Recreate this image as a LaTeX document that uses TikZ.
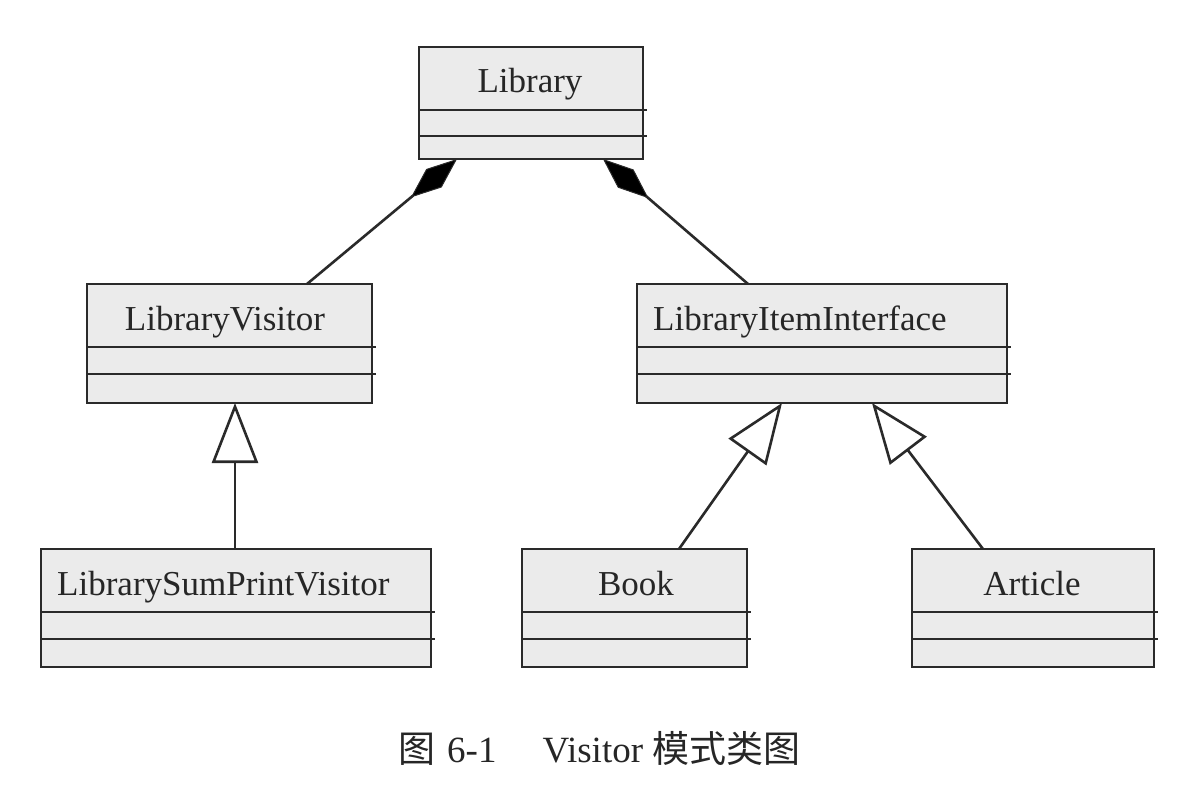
\documentclass[tikz,border=0pt]{standalone}
\usepackage{fontspec}
\setmainfont{Liberation Serif}
\newfontfamily\cjk{Noto Sans CJK SC}
\usetikzlibrary{arrows.meta,calc}
\definecolor{ln}{HTML}{2A2A2A}
\definecolor{bx}{HTML}{EBEBEB}
\definecolor{tx}{HTML}{262626}
\newcommand\umldivs[3]{%
  \draw[divl] ($(#1.north west)+(0,#2)$) -- ($(#1.north east)+(4,#2)$);
  \draw[divl] ($(#1.north west)+(0,#3)$) -- ($(#1.north east)+(4,#3)$);}
\begin{document}
\begin{tikzpicture}[x=1pt,y=-1pt,
  clsbox/.style={draw=ln, fill=bx, line width=2.8pt, inner sep=0pt, outer sep=0pt},
  divl/.style={draw=ln, line width=2.8pt},
  clstext/.style={text=tx, inner sep=0pt, anchor=base, font=\fontsize{35}{40}\selectfont},
  conn/.style={draw=ln, line width=2.6pt},
  compo/.style={conn, -{Diamond[length=60pt, width=24pt, fill=black, line width=1pt]}},
  inherit/.style={conn, -{Triangle[open, length=60pt, width=46pt, fill=white, line width=2.6pt]}}]
\fill[white] (0,0) rectangle (1202,798);
\useasboundingbox (0,0) rectangle (1202,798);

% boxes
\node[clsbox, minimum width=224pt, minimum height=112pt] (lib) at (531,103) {};
\umldivs{lib}{63}{89}
\node[clstext] (libt) at (530,92) {Library};

\node[clsbox, minimum width=285pt, minimum height=119pt] (lv) at (229.5,343.5) {};
\umldivs{lv}{63}{90}
\node[clstext] (lvt) at (225,330) {LibraryVisitor};

\node[clsbox, minimum width=370pt, minimum height=119pt] (lii) at (822,343.5) {};
\umldivs{lii}{63}{90}
\node[clstext, anchor=base west] (liit) at (653,330) {LibraryItemInterface};

\node[clsbox, minimum width=390pt, minimum height=118pt] (lsv) at (236,608) {};
\umldivs{lsv}{63}{90}
\node[clstext, anchor=base west] (lsvt) at (57,595) {LibrarySumPrintVisitor};

\node[clsbox, minimum width=225pt, minimum height=118pt] (book) at (634.5,608) {};
\umldivs{book}{63}{90}
\node[clstext] (bookt) at (636,595) {Book};

\node[clsbox, minimum width=242pt, minimum height=118pt] (art) at (1033,608) {};
\umldivs{art}{63}{90}
\node[clstext] (artt) at (1032,595) {Article};

% connector end points
\coordinate (c1) at ($(lib.south west)+(38,0)$);
\coordinate (c2) at ($(lib.south east)+(-40,0)$);
\coordinate (c3) at ($(lv.north west)+(220,0)$);
\coordinate (c4) at ($(lii.north west)+(111,0)$);
\coordinate (c5) at ($(lsv.north)+(-1,0)$);
\coordinate (c6) at (c5 |- lv.south);
\coordinate (c7) at ($(book.north west)+(157,0)$);
\coordinate (c8) at ($(lii.south west)+(145,0)$);
\coordinate (c9) at ($(art.north west)+(71,0)$);
\coordinate (c10) at ($(lii.south west)+(235,0)$);

\draw[compo] (c3) -- (c1);
\draw[compo] (c4) -- (c2);
\draw[inherit] (c5) -- (c6);
\draw[inherit] (c7) -- (c8);
\draw[inherit] (c9) -- (c10);

% caption
\node[text=tx, inner sep=0pt, anchor=base west, font=\fontsize{37}{42}\selectfont] (cap) at (398,762)
  {{\cjk 图}\hspace{12pt}6-1\hspace{46pt}Visitor\hspace{9pt}{\cjk 模式类图}};
\end{tikzpicture}
\end{document}
